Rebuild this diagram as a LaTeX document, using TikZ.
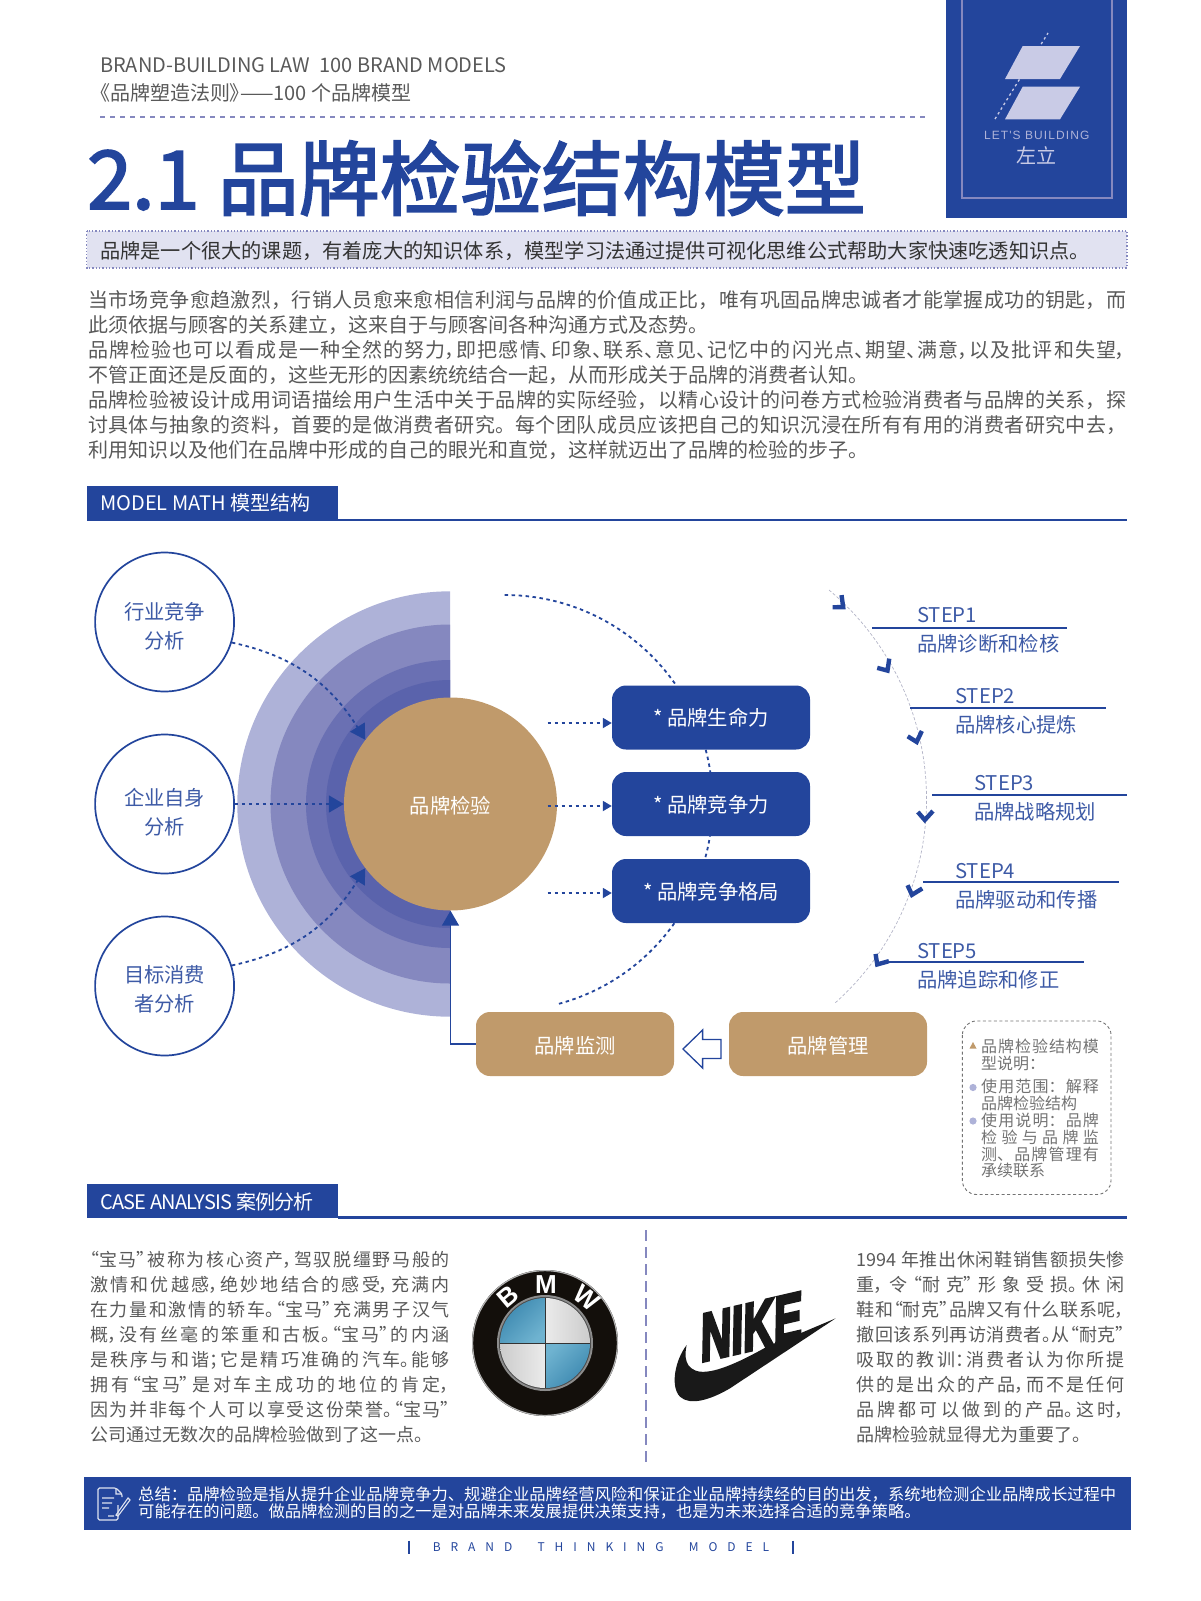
\documentclass[tikz,border=0pt]{standalone}
\usepackage{fontspec}
\setmainfont{Noto Sans CJK SC}
\newfontfamily\tightfont[RawFeature=+palt]{Noto Sans CJK SC}
\newfontfamily\titlefont[FakeBold=2.4]{Noto Sans CJK SC}
\newfontfamily\logofont{Liberation Sans}
\newfontfamily\nikefont[FakeSlant=0.38,FakeBold=5]{Liberation Sans}
\usetikzlibrary{arrows.meta}
\XeTeXlinebreaklocale "zh"
\XeTeXlinebreakskip=0pt plus 3pt minus .4pt
\definecolor{brandblue}{HTML}{23459C}
\definecolor{brandtan}{HTML}{C09A6B}
\definecolor{layerA}{HTML}{AEB2D8}
\definecolor{layerB}{HTML}{8588BF}
\definecolor{layerC}{HTML}{6A70B3}
\definecolor{layerD}{HTML}{5A63AC}
\definecolor{bodygray}{HTML}{595959}
\definecolor{lilac}{HTML}{C9CBE6}
\definecolor{steptext}{HTML}{3D5AA6}
\definecolor{bmwdark}{HTML}{3A86AE}
\definecolor{bmwlight}{HTML}{6FB3D0}
\tikzset{
	sourcecircle/.style={circle,draw=brandblue,line width=1.7pt,fill=white,minimum size=139pt,inner sep=0pt},
	sourcetext/.style={text=steptext,font=\fontsize{20.3}{29}\selectfont,align=center},
	forcebox/.style={rectangle,rounded corners=14pt,fill=brandblue,text=white,minimum width=198pt,minimum height=64pt,text height=18pt,text depth=2pt,font=\fontsize{20.3}{24}\selectfont},
	stagebox/.style={rectangle,rounded corners=14pt,fill=brandtan,text=white,minimum height=64pt,text height=20pt,text depth=2pt,font=\fontsize{20.3}{24}\selectfont},
	dotflow/.style={brandblue,line width=1.8pt,dash pattern=on 3.5pt off 3.5pt},
	bighead/.style={-{Triangle[length=15pt,width=17pt]}},
	smallhead/.style={-{Triangle[length=9pt,width=10pt]}},
	bartitle/.style={anchor=west,text=white,inner sep=0pt,font=\fontsize{20}{24}\selectfont},
	bodytext/.style={anchor=north west,inner sep=0pt,text=bodygray,align=justify,font=\fontsize{20}{25}\selectfont},
	casetext/.style={anchor=north west,inner sep=0pt,text=bodygray,align=justify,font=\tightfont\fontsize{18}{25}\selectfont},
	steptitle/.style={anchor=west,inner sep=0pt,text=steptext,font=\fontsize{20.3}{24}\selectfont},
	stepline/.style={brandblue,line width=1.2pt},
	stepmark/.pic={
		\draw[brandblue,line width=4.4pt] (-7.5,4.5) -- (0,-3) -- (7.5,6.5);
	},
}
\begin{document}
\begin{tikzpicture}[x=1pt,y=1pt]
	\useasboundingbox (0,0) rectangle (1200,-1601);
	% page head
	\fill[brandblue] (946,0) rectangle (1127,-218);
	\draw[layerB,line width=1.2pt] (962,0) -- (962,-198) -- (1112,-198) -- (1112,0);
	\fill[lilac] (1005,-79) -- (1060,-79) -- (1080,-46) -- (1022.7,-46) -- cycle;
	\fill[lilac] (1005,-119.3) -- (1060,-119.3) -- (1080,-86.7) -- (1022.7,-86.7) -- cycle;
	\draw[lilac,line width=1.3pt,dash pattern=on 2.5pt off 3pt] (995,-119) -- (1048,-33);
	\node[inner sep=0pt,text=layerA,font=\logofont\addfontfeature{LetterSpace=9}\fontsize{12}{14}\selectfont] (building) at (1036.7,-135.7) {LET'S BUILDING};
	\node[inner sep=0pt,text=lilac,font=\fontsize{20}{24}\selectfont] (zuoli) at (1036.7,-156) {左立};
	\node[anchor=west,inner sep=0pt,text=bodygray,font=\fontsize{20}{24}\selectfont] (headen) at (100,-65.5) {BRAND-BUILDING LAW\ \ 100 BRAND MODELS};
	\node[anchor=west,inner sep=0pt,text=bodygray,font=\tightfont\fontsize{20}{24}\selectfont] (headcn) at (100,-93) {《品牌塑造法则》——100 个品牌模型};
	\draw[layerB,line width=2.4pt,dash pattern=on 5pt off 5pt] (100,-117) -- (927,-117);
	\node[anchor=west,inner sep=0pt,text=brandblue,font=\titlefont\fontsize{81}{90}\selectfont] (title) at (87,-178) {2.1 品牌检验结构模型};
	\draw[layerB,dotted,line width=1.3pt,fill=lilac!55] (86.5,-231) rectangle (1127,-268);
	\node[anchor=west,inner sep=0pt,text=black!80,font=\fontsize{20.2}{24}\selectfont] (lead) at (100,-251) {品牌是一个很大的课题，有着庞大的知识体系，模型学习法通过提供可视化思维公式帮助大家快速吃透知识点。};
	\node[bodytext,text width=1038pt] (intro) at (88,-290) {当市场竞争愈趋激烈，行销人员愈来愈相信利润与品牌的价值成正比，唯有巩固品牌忠诚者才能掌握成功的钥匙，而\linebreak 此须依据与顾客的关系建立，这来自于与顾客间各种沟通方式及态势。\\
	{\tightfont 品牌检验也可以看成是一种全然的努力，即把感情、印象、联系、意见、记忆中的闪光点、期望、满意，以及批评和失望，}\linebreak 不管正面还是反面的，这些无形的因素统统结合一起，从而形成关于品牌的消费者认知。\\
	品牌检验被设计成用词语描绘用户生活中关于品牌的实际经验，以精心设计的问卷方式检验消费者与品牌的关系，探\linebreak 讨具体与抽象的资料，首要的是做消费者研究。每个团队成员应该把自己的知识沉浸在所有有用的消费者研究中去，\linebreak 利用知识以及他们在品牌中形成的自己的眼光和直觉，这样就迈出了品牌的检验的步子。};
	% model
	\fill[brandblue] (87,-485.5) rectangle (338,-521);
	\draw[brandblue,line width=2.4pt] (338,-520) -- (1127,-520);
	\node[bartitle] (modelbar) at (100,-503) {MODEL MATH 模型结构};
	\foreach \r/\c in {212.7/layerA,179.5/layerB,144/layerC,124/layerD}
		\fill[\c] (450,-804+\r) arc[start angle=90,end angle=270,radius=\r pt] -- cycle;
	\draw[dotflow] (504.6,-595) arc[start angle=90,end angle=-75,radius=208pt];
	\draw[lilac!70!gray,line width=.7pt,dash pattern=on 3pt off 2pt] (829,-590) arc[start angle=50,end angle=-48.6,radius=273pt];
	\node[circle,fill=brandtan,minimum size=213pt,inner sep=0pt] (check) at (450.5,-804) {};
	\node[inner sep=0pt,text=white,font=\fontsize{20.3}{24}\selectfont] (checktext) at (450.5,-806) {品牌检验};
	\node[sourcecircle,label={[sourcetext,yshift=-4pt]center:行业竞争\\分析}] (industry) at (164.6,-622) {};
	\node[sourcecircle,label={[sourcetext,yshift=-8pt]center:企业自身\\分析}] (firm) at (164.6,-804) {};
	\node[sourcecircle,label={[sourcetext,yshift=-3pt]center:目标消费\\者分析}] (target) at (164.6,-986) {};
	\draw[dotflow,bighead] (industry.-17) to[out=-12,in=122] (check.143);
	\draw[dotflow,bighead] (firm.east) -- (check.west);
	\draw[dotflow,bighead] (target.17) to[out=12,in=238] (check.217);
	\node[forcebox] (life) at (711,-717.5) {* 品牌生命力};
	\node[forcebox] (compete) at (711,-804) {* 品牌竞争力};
	\node[forcebox] (pattern) at (711,-891) {* 品牌竞争格局};
	\foreach \n/\y in {life/-723,compete/-806,pattern/-893}{
		\coordinate (from\n) at (547.5,\y);
		\draw[dotflow,smallhead] (from\n) -- (from\n -| \n.west);
	}
	\node[stagebox,minimum width=198pt] (monitor) at (575,-1044) {品牌监测};
	\node[stagebox,minimum width=198pt] (manage) at (828,-1044) {品牌管理};
	\draw[brandblue,line width=1.7pt,-{Triangle[length=15pt,width=17pt]}] (monitor.west) -| (check.south);
	\draw[brandblue,line width=1.3pt,fill=white,line join=miter] (683,-1049) -- (702.6,-1030) -- (702.6,-1039.5) -- (721,-1039.5) -- (721,-1058.5) -- (702.6,-1058.5) -- (702.6,-1068) -- cycle;
	% steps
	\foreach \x/\y/\a in {841/-605/46,886/-668/30,916/-739/13,925/-817/-4,913/-892/-20,879/-962/-36}
		\pic[rotate=\a] at (\x,\y) {stepmark};
	\foreach \i/\lx/\rx/\ly/\tx/\ty/\sy/\sub in {1/872/1067/-628/917/-615/-643.5/品牌诊断和检核,2/910/1105.5/-708/955/-696/-725/品牌核心提炼,3/932/1127/-795/974/-783/-811.6/品牌战略规划,4/923/1118.5/-882/955/-871/-900/品牌驱动和传播,5/889/1084/-962/917/-951/-980/品牌追踪和修正}{
		\node[steptitle] (step\i) at (\tx,\ty) {STEP\i};
		\node[steptitle] (sub\i) at (\tx,\sy) {\sub};
		\coordinate (lineL\i) at (\lx,\ly);
		\coordinate (lineR\i) at (\rx,\ly);
		\draw[stepline] (lineL\i) -- (lineR\i);
	}
	\draw[black!55,line width=.9pt,dash pattern=on 3pt off 2.5pt,rounded corners=14pt] (962.4,-1021) rectangle (1111,-1194.5);
	\fill[brandtan] (973,-1042) -- (976.5,-1048.5) -- (969.5,-1048.5) -- cycle;
	\fill[layerA] (973,-1087.5) circle (3.6pt);
	\fill[layerA] (973,-1121) circle (3.6pt);
	\node[anchor=north west,inner sep=0pt,text width=117.7pt,align=justify,text=black!55,font=\fontsize{16}{16.8}\selectfont] (usage) at (981,-1038.5) {品牌检验结构模\linebreak 型说明：\\[7pt]
	使用范围：解释\linebreak 品牌检验结构\\
	使用说明：品牌\linebreak 检验与品牌监\linebreak 测、品牌管理有\linebreak 承续联系};
	% cases
	\fill[brandblue] (87,-1184) rectangle (338,-1218);
	\draw[brandblue,line width=2.4pt] (338,-1217.5) -- (1127,-1217.5);
	\node[bartitle,font=\addfontfeature{LetterSpace=-4}\fontsize{20}{24}\selectfont] (casebar) at (100,-1202) {CASE ANALYSIS 案例分析};
	\draw[layerB,line width=1.2pt,dash pattern=on 11pt off 6pt] (646,-1230) -- (646,-1466);
	\node[casetext,text width=359.5pt] (bmwtext) at (90,-1251.5) {“宝马”被称为核心资产，驾驭脱缰野马般的\linebreak 激情和优越感，绝妙地结合的感受，充满内\linebreak 在力量和激情的轿车。“宝马”充满男子汉气\linebreak 概，没有丝毫的笨重和古板。“宝马”的内涵\linebreak 是秩序与和谐；它是精巧准确的汽车。能够\linebreak 拥有“宝马”是对车主成功的地位的肯定，\linebreak 因为并非每个人可以享受这份荣誉。“宝马”\linebreak 公司通过无数次的品牌检验做到了这一点。};
	\node[casetext,text width=268pt] (niketext) at (856.5,-1251.5) {1994 年推出休闲鞋销售额损失惨\linebreak 重，令“耐克”形象受损。休闲\linebreak 鞋和“耐克”品牌又有什么联系呢，\linebreak 撤回该系列再访消费者。从“耐克”\linebreak 吸取的教训：消费者认为你所提\linebreak 供的是出众的产品，而不是任何\linebreak 品牌都可以做到的产品。这时，\linebreak 品牌检验就显得尤为重要了。};
	% bmw
	\fill[black!90!brandtan] (545,-1343) circle (73pt);
	\draw[gray!60,line width=1.2pt] (545,-1343) circle (72.4pt);
	\fill[gray!90] (545,-1343) circle (48pt);
	\fill[black!70] (545,-1343) circle (46pt);
	\shade[left color=bmwdark,right color=bmwlight,shading angle=45] (545,-1343) -- (545,-1298) arc[start angle=90,end angle=180,radius=45pt] -- cycle;
	\shade[left color=bmwlight,right color=bmwdark,shading angle=45] (545,-1343) -- (590,-1343) arc[start angle=0,end angle=-90,radius=45pt] -- cycle;
	\shade[left color=white!92!black,right color=white!80!black] (545,-1343) -- (545,-1298) arc[start angle=90,end angle=0,radius=45pt] -- cycle;
	\shade[left color=white!80!black,right color=white!92!black] (545,-1343) -- (500,-1343) arc[start angle=180,end angle=270,radius=45pt] -- cycle;
	\draw[black!80,line width=.8pt] (500,-1343) -- (590,-1343) (545,-1298) -- (545,-1388);
	\foreach \c/\x/\y/\a in {B/508.3/-1296.7/40,M/546/-1285/0,W/586.7/-1298.3/-38}
		\node[inner sep=0pt,text=white,rotate=\a,font=\logofont\bfseries\fontsize{26}{28}\selectfont] (bmw\c) at (\x,\y) {\c};
	% nike
	\begin{scope}[shift={(660,-1280)},x=1/3*1pt,y=-1/3*1pt]
		\fill[black!90] (80,195) .. controls (45,240) and (30,320) .. (60,350) .. controls (90,378) and (150,360) .. (210,325) -- (527,115) -- (385,175) -- (330,195) .. controls (250,240) and (170,280) .. (120,275) .. controls (75,268) and (72,230) .. cycle;
	\end{scope}
	\node[inner sep=0pt,rotate=13,xscale=.66,text=black!90,font=\nikefont\bfseries\fontsize{66}{68}\selectfont] (nikeword) at (746,-1328) {NIKE};
	% summary
	\fill[brandblue] (84,-1477) rectangle (1131,-1530);
	\draw[white!85!brandblue,line width=1.1pt,rounded corners=1.5pt] (118,-1505) -- (118,-1520) -- (98,-1520) -- (98,-1488) -- (116,-1488) -- (122,-1494) -- (122,-1497);
	\draw[white!85!brandblue,line width=1.1pt] (116,-1488) -- (116,-1494) -- (122,-1494) (102,-1498) -- (114,-1498) (102,-1503) -- (112,-1503) (102,-1508) -- (109,-1508) (108,-1516) -- (114,-1516) (116,-1515) -- (128,-1498) -- (130,-1500) -- (118,-1516) -- cycle;
	\node[anchor=north west,inner sep=0pt,text width=990pt,text=white,align=left,font=\fontsize{16.3}{17.5}\selectfont] (summary) at (138,-1486) {总结：品牌检验是指从提升企业品牌竞争力、规避企业品牌经营风险和保证企业品牌持续经的目的出发，系统地检测企业品牌成长过程中\\可能存在的问题。做品牌检测的目的之一是对品牌未来发展提供决策支持，也是为未来选择合适的竞争策略。};
	\draw[brandblue,line width=2pt] (409,-1540.5) -- (409,-1554) (792.5,-1540.5) -- (792.5,-1554);
	\node[inner sep=0pt,text=brandblue,font=\addfontfeature{LetterSpace=83}\fontsize{12}{14}\selectfont] (foot) at (601,-1547) {BRAND\ \ THINKING\ \ MODEL};
\end{tikzpicture}
\end{document}
